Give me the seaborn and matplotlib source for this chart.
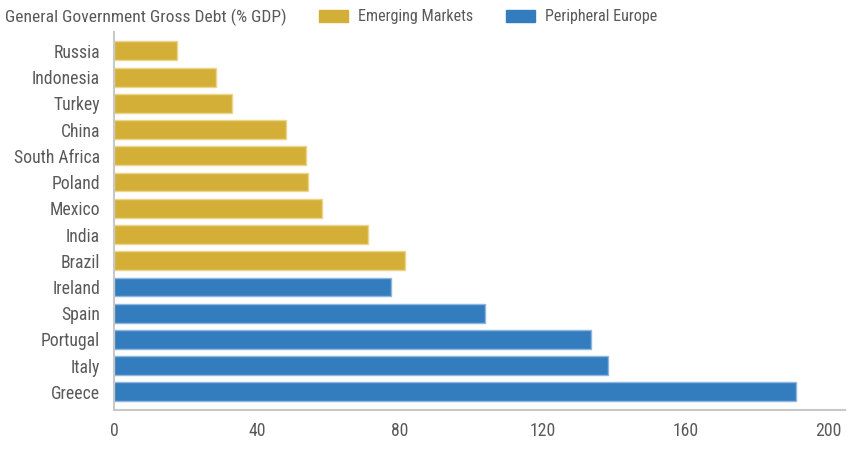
import matplotlib
matplotlib.use("Agg")
import matplotlib.pyplot as plt
from matplotlib import font_manager
from matplotlib.patches import Patch
import seaborn as sns
import pandas as pd

countries = ["Russia", "Indonesia", "Turkey", "China", "South Africa", "Poland",
             "Mexico", "India", "Brazil", "Ireland", "Spain", "Portugal", "Italy", "Greece"]
debt = [17.7, 28.5, 33.0, 48.2, 53.7, 54.4, 58.2, 71.2, 81.5, 77.5, 104.0, 133.5, 138.2, 191.0]
groups = ["Emerging Markets"] * 9 + ["Peripheral Europe"] * 5
group_names = ["Emerging Markets", "Peripheral Europe"]
x_ticks = [0, 40, 80, 120, 160, 200]
title = "General Government Gross Debt (% GDP)"

colors = {"Emerging Markets": "#D4AF37", "Peripheral Europe": "#337CBD"}
edges = {"Emerging Markets": "#EBD58A", "Peripheral Europe": "#8DB6E0"}

sns.set_theme(style="white")
avail = {f.name for f in font_manager.fontManager.ttflist}
family = None
for cand in ["Roboto Condensed", "Liberation Sans Narrow", "Open Sans Condensed", "Roboto"]:
    if cand in avail:
        family = cand
        break
plt.rcParams["font.family"] = [family, "DejaVu Sans"]
text_color = "#595959"

df = pd.DataFrame({"country": countries, "debt": debt, "group": groups})

fig = plt.figure(figsize=(8.61, 4.51), dpi=100)
ax = fig.add_axes([114 / 861, 1 - 410 / 451, (845 - 114) / 861, (410 - 32) / 451])

sns.barplot(data=df, x="debt", y="country", hue="group", hue_order=group_names,
            palette=colors, dodge=False, orient="h", width=0.72, ax=ax,
            legend=False, saturation=1)

for p in ax.patches:
    if p.get_width() == 0:
        continue
    yc = p.get_y() + p.get_height() / 2
    idx = int(round(yc))
    if 0 <= idx < len(groups):
        p.set_edgecolor(edges[groups[idx]])
        p.set_linewidth(1.0)

ax.set_xlim(0, 204.7)
ax.set_ylim(13.69, -0.72)
ax.set_xticks(x_ticks)
ax.set_xticklabels([str(t) for t in x_ticks])
ax.set_xlabel("")
ax.set_ylabel("")

for s in ["top", "right"]:
    ax.spines[s].set_visible(False)
for s in ["left", "bottom"]:
    ax.spines[s].set_color("#C8C8C8")
    ax.spines[s].set_linewidth(1.5)

ax.tick_params(axis="both", length=0, labelsize=12.7, labelcolor=text_color)
ax.tick_params(axis="y", pad=10)
ax.tick_params(axis="x", pad=9)

fig.text(5 / 861, 1 - 17 / 451, title, fontsize=12.6, color=text_color,
         ha="left", va="center")

handles = [Patch(facecolor=colors[g], edgecolor=colors[g], label=g) for g in group_names]
leg = fig.legend(handles=handles, ncol=2, loc="center left",
                 bbox_to_anchor=(319 / 861, 1 - 17 / 451), frameon=False,
                 fontsize=11.6, handlelength=1.8, handleheight=0.8,
                 handletextpad=0.65, columnspacing=2.0, borderaxespad=0,
                 borderpad=0)
for t in leg.get_texts():
    t.set_color(text_color)

fig.savefig("out.png", dpi=100)
